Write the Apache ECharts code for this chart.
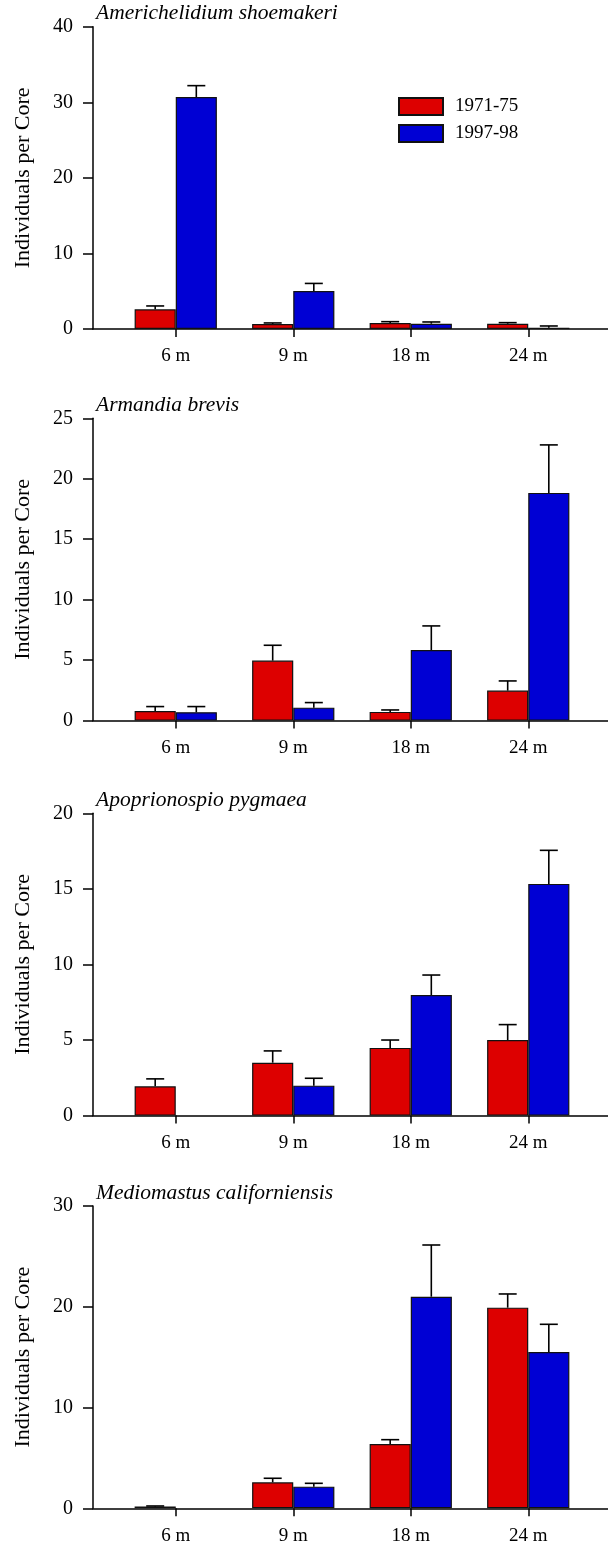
<!DOCTYPE html>
<html>
<head>
<meta charset="utf-8">
<script src="https://cdn.jsdelivr.net/npm/echarts@6/dist/echarts.min.js"></script>
<style>
  html, body { margin: 0; padding: 0; background: #fff; }
  #chart { width: 608px; height: 1546px; }
</style>
</head>
<body>
<div id="chart"></div>
<script>
// categories and panel settings
const depths = ['6 m', '9 m', '18 m', '24 m'];
const species = ['Americhelidium shoemakeri', 'Armandia brevis', 'Apoprionospio pygmaea', 'Mediomastus californiensis'];
const yMax = [40, 25, 20, 30];
const yStep = [10, 5, 5, 10];
const seriesNames = ['1971-75', '1997-98'];

// means and standard errors, one pair of arrays per panel
const early1 = [2.6, 0.66, 0.8, 0.7];
const earlyErr1 = [0.45, 0.14, 0.17, 0.14];
const late1 = [30.7, 5.03, 0.7, 0.18];
const lateErr1 = [1.5, 1.0, 0.23, 0.22];

const early2 = [0.8, 4.96, 0.72, 2.48];
const earlyErr2 = [0.36, 1.27, 0.16, 0.8];
const late2 = [0.69, 1.07, 5.84, 18.83];
const lateErr2 = [0.47, 0.42, 1.99, 3.97];

const early3 = [1.94, 3.5, 4.48, 5.0];
const earlyErr3 = [0.49, 0.78, 0.52, 1.02];
const late3 = [0, 1.98, 7.98, 15.33];
const lateErr3 = [0, 0.49, 1.32, 2.22];

const early4 = [0.17, 2.58, 6.38, 19.91];
const earlyErr4 = [0.06, 0.4, 0.43, 1.36];
const late4 = [0, 2.15, 21.0, 15.51];
const lateErr4 = [0, 0.33, 5.13, 2.75];

const panels = [
  [early1, earlyErr1, late1, lateErr1],
  [early2, earlyErr2, late2, lateErr2],
  [early3, earlyErr3, late3, lateErr3],
  [early4, earlyErr4, late4, lateErr4]
];

const colors = ['#dd0000', '#0000d4'];
const serif = '"Liberation Serif", "Times New Roman", serif';
const plotTops = [26.7, 418.3, 813.3, 1206];
const plotH = 302.3;

let chart = echarts.init(document.getElementById('chart'), null, { renderer: 'canvas' });

let grids = [], xAxes = [], yAxes = [], titles = [], series = [];

function errorBar(side) {
  return function (params, api) {
    const e = api.value(2);
    if (!e) return;
    const x = api.value(0), v = api.value(1);
    const base = api.coord([x, v]);
    const top = api.coord([x, v + e]);
    const bw = api.size([1, 0])[0] * 0.35;
    const cx = base[0] + side * bw / 2;
    const style = { stroke: '#000', lineWidth: 1.6 };
    return {
      type: 'group',
      children: [
        { type: 'line', shape: { x1: cx, y1: base[1], x2: cx, y2: top[1] }, style: style },
        { type: 'line', shape: { x1: cx - 9, y1: top[1], x2: cx + 9, y2: top[1] }, style: style }
      ]
    };
  };
}

panels.forEach(function (p, i) {
  const top = plotTops[i];
  // frame grid: carries the long x axis line and the y axis
  grids.push({ left: 93, width: 515, top: top, height: plotH });
  // bar grid: the four depth bands
  grids.push({ left: 117, width: 470, top: top, height: plotH });

  xAxes.push({
    gridIndex: 2 * i, type: 'value', min: 0, max: 1,
    axisLine: { show: true, lineStyle: { color: '#000', width: 1.5 } },
    axisTick: { show: false }, axisLabel: { show: false }, splitLine: { show: false }
  });
  xAxes.push({
    gridIndex: 2 * i + 1, type: 'category', data: depths,
    axisLine: { show: false },
    axisTick: { show: true, alignWithLabel: true, length: 8, lineStyle: { color: '#000', width: 1.5 } },
    axisLabel: { color: '#000', fontFamily: serif, fontSize: 19, margin: 18 }
  });

  yAxes.push({
    gridIndex: 2 * i, type: 'value', min: 0, max: yMax[i], interval: yStep[i],
    name: 'Individuals per Core', nameLocation: 'middle', nameGap: 59,
    nameTextStyle: { color: '#000', fontFamily: serif, fontSize: 22 },
    axisLine: { show: true, lineStyle: { color: '#000', width: 1.5 } },
    axisTick: { show: true, length: 10, lineStyle: { color: '#000', width: 1.5 } },
    axisLabel: { color: '#000', fontFamily: serif, fontSize: 20, margin: 20 },
    splitLine: { show: false }
  });
  yAxes.push({
    gridIndex: 2 * i + 1, type: 'value', min: 0, max: yMax[i], show: false, splitLine: { show: false }
  });

  titles.push({
    text: species[i], left: 96, top: top - 24, padding: 0,
    textStyle: { color: '#000', fontFamily: serif, fontStyle: 'italic', fontWeight: 'normal', fontSize: 21.5 }
  });

  [0, 1].forEach(function (k) {
    const vals = p[2 * k], errs = p[2 * k + 1];
    series.push({
      name: seriesNames[k], type: 'bar', xAxisIndex: 2 * i + 1, yAxisIndex: 2 * i + 1,
      // an empty group has no bar at all in the original
      data: vals.map(function (v) { return v === 0 ? '-' : v; }),
      barWidth: '35%', barGap: '0%',
      itemStyle: { color: colors[k], borderColor: '#111', borderWidth: 1.2 },
      z: 2
    });
    series.push({
      type: 'custom', xAxisIndex: 2 * i + 1, yAxisIndex: 2 * i + 1,
      renderItem: errorBar(k === 0 ? -1 : 1),
      data: vals.map(function (v, j) { return [j, v, errs[j]]; }),
      z: 3, silent: true
    });
  });
});

let option = {
  animation: false,
  backgroundColor: '#fff',
  title: titles,
  legend: {
    data: seriesNames, orient: 'vertical', left: 398, top: 97, padding: 0,
    icon: 'rect', itemWidth: 44, itemHeight: 17, itemGap: 8,
    textStyle: { color: '#000', fontFamily: serif, fontSize: 19, padding: [0, 0, 0, 7] }
  },
  grid: grids,
  xAxis: xAxes,
  yAxis: yAxes,
  series: series
};
chart.setOption(option);
</script>
</body>
</html>
